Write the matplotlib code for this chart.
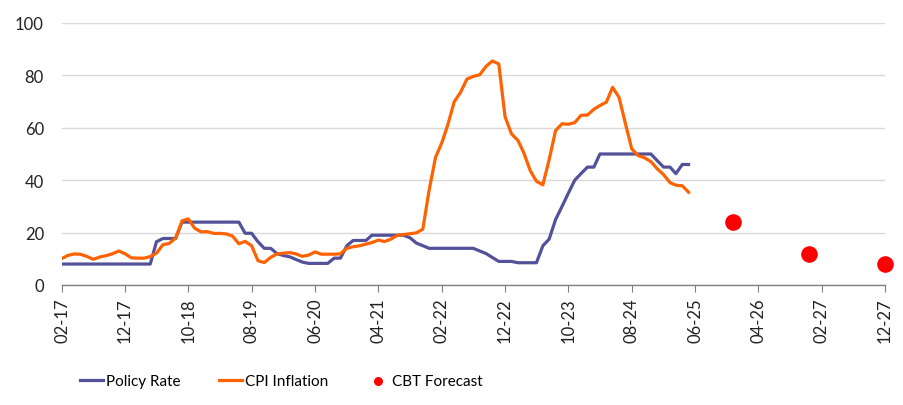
import numpy as np
import pandas as pd
import matplotlib
matplotlib.use("Agg")
import matplotlib.pyplot as plt
from matplotlib import font_manager

# monthly data, Feb 2017 - May 2025
start_month = "2017-02"
policy_rate = [
    8, 8, 8, 8, 8, 8, 8, 8, 8, 8, 8, 8, 8, 8, 8,
    16.5, 17.75, 17.75, 17.75, 24, 24, 24, 24, 24, 24, 24, 24, 24, 24,
    19.75, 19.75, 16.5, 14, 14, 12,
    11.25, 10.75, 9.75, 8.75, 8.25, 8.25, 8.25, 8.25, 10.25, 10.25, 15, 17,
    17, 17, 19, 19, 19, 19, 19, 19, 18, 16, 15, 14,
    14, 14, 14, 14, 14, 14, 14, 13, 12, 10.5, 9, 9,
    9, 8.5, 8.5, 8.5, 8.5, 15, 17.5, 25, 30, 35, 40, 42.5,
    45, 45, 50, 50, 50, 50, 50, 50, 50, 50, 50, 47.5,
    45, 45, 42.5, 46, 46,
]
cpi_inflation = [
    10.13, 11.29, 11.87, 11.72, 10.90, 9.79, 10.68, 11.20, 11.90, 12.98, 11.92,
    10.35, 10.26, 10.23, 10.85, 12.15, 15.39, 15.85, 17.90, 24.52, 25.24, 21.62, 20.30,
    20.35, 19.67, 19.71, 19.50, 18.71, 15.72, 16.65, 15.01, 9.26, 8.55, 10.56, 11.84,
    12.15, 12.37, 11.86, 10.94, 11.39, 12.62, 11.76, 11.77, 11.75, 11.89, 14.03, 14.60,
    14.97, 15.61, 16.19, 17.14, 16.59, 17.53, 18.95, 19.25, 19.58, 19.89, 21.31, 36.08,
    48.69, 54.44, 61.14, 69.97, 73.50, 78.62, 79.60, 80.21, 83.45, 85.51, 84.39, 64.27,
    57.68, 55.18, 50.51, 43.68, 39.59, 38.21, 47.83, 58.94, 61.53, 61.36, 61.98, 64.77,
    64.86, 67.07, 68.50, 69.80, 75.45, 71.60, 61.78, 51.97, 49.38, 48.58, 47.09, 44.38,
    42.12, 39.05, 38.10, 37.86, 35.41,
]
forecast_dates = ["2025-12", "2026-12", "2027-12"]
cbt_forecast = [24, 12, 8]

months = pd.date_range(start_month, periods=len(cpi_inflation), freq="MS")
fc_months = pd.to_datetime(forecast_dates)
tick_months = pd.date_range("2017-02", "2027-12", freq="10MS")

names = {f.name for f in font_manager.fontManager.ttflist}
base_font = "Liberation Sans Narrow" if "Liberation Sans Narrow" in names else "Lato"
plt.rcParams["font.family"] = [base_font, "DejaVu Sans"]

fig = plt.figure(figsize=(9.04, 4.06), dpi=100)
ax = fig.add_axes([62 / 904, 1 - 286 / 406, (885 - 62) / 904, (286 - 24) / 406])

ax.plot(months, policy_rate, color="#525199", lw=2.3, label="Policy Rate", zorder=3)
ax.plot(months, cpi_inflation, color="#FF6200", lw=2.3, label="CPI Inflation", zorder=4)
ax.scatter(fc_months, cbt_forecast, s=120, color="#FF0000", label="CBT Forecast",
           zorder=5, clip_on=False)

ax.set_xlim(tick_months[0], tick_months[-1])
ax.set_ylim(0, 100)
ax.set_yticks(np.arange(0, 101, 20))
ax.set_xticks(tick_months)
ax.set_xticklabels([d.strftime("%m-%y") for d in tick_months], rotation=90)

ax.grid(axis="y", color="#d9d9d9", lw=1)
ax.set_axisbelow(True)
for s in ["top", "right", "left"]:
    ax.spines[s].set_visible(False)
ax.spines["bottom"].set_color("#808080")
ax.spines["bottom"].set_linewidth(1)
ax.tick_params(axis="y", length=0, pad=13, labelsize=12, labelcolor="#222222")
ax.tick_params(axis="x", length=5, color="#808080", pad=4, labelsize=12, labelcolor="#222222")

fig.legend(loc="center left", bbox_to_anchor=(80 / 904, 1 - 382 / 406), ncol=3,
           frameon=False, fontsize=11, handlelength=1.5, handletextpad=0.2,
           columnspacing=2.5, markerscale=0.5, borderpad=0, borderaxespad=0)

fig.savefig("out.png", dpi=100)
